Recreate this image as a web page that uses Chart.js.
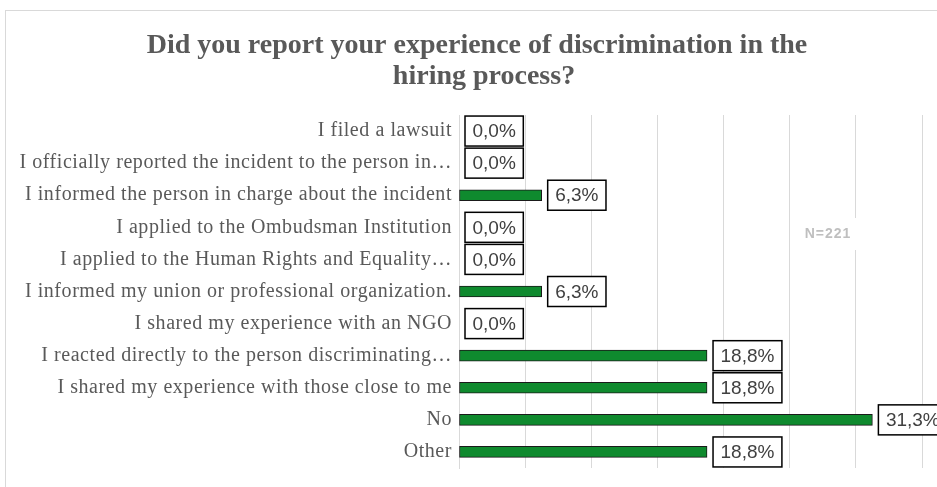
<!DOCTYPE html>
<html>
<head>
<meta charset="utf-8">
<script src="https://cdn.jsdelivr.net/npm/chart.js@4/dist/chart.umd.min.js"></script>
<style>
  html,body{margin:0;padding:0;background:#fff;}
  #wrap{width:937px;height:487px;position:relative;}
</style>
</head>
<body>
<div id="wrap"><canvas id="c"></canvas></div>
<script>
const titleLines = [
  "Did you report your experience of discrimination in the",
  "hiring process?"
];
const categories = [
  "I filed a lawsuit",
  "I officially reported the incident to the person in…",
  "I informed the person in charge about the incident",
  "I applied to the Ombudsman Institution",
  "I applied to the Human Rights and Equality…",
  "I informed my union or professional organization.",
  "I shared my experience with an NGO",
  "I reacted directly to the person discriminating…",
  "I shared my experience with those close to me",
  "No",
  "Other"
];
const values = [0, 0, 6.25, 0, 0, 6.25, 0, 18.75, 18.75, 31.25, 18.75];
const axisMin = 0;
const axisMax = 35;
const tickStep = 5;
const noteText = "N=221";

function fmt(v){ return v.toFixed(1).replace('.', ',') + '%'; }

const decor = {
  id: 'decor',
  beforeDraw(chart){
    const ctx = chart.ctx;
    ctx.save();
    ctx.fillStyle = '#fff';
    ctx.fillRect(0,0,chart.width,chart.height);
    ctx.strokeStyle = '#d9d9d9';
    ctx.lineWidth = 1;
    ctx.strokeRect(5.5, 10.5, 1200, 1200);
    ctx.restore();
    if ('letterSpacing' in ctx) ctx.letterSpacing = '0.55px';
  },
  beforeDatasetsDraw(chart){
    const ctx = chart.ctx;
    if ('letterSpacing' in ctx) ctx.letterSpacing = '0px';
  },
  afterDatasetsDraw(chart){
    const ctx = chart.ctx;
    ctx.save();
    // N= note
    ctx.fillStyle = '#fff';
    ctx.fillRect(797, 218, 63, 32);
    ctx.fillStyle = '#bfbfbf';
    if ('letterSpacing' in ctx) ctx.letterSpacing = '1px';
    ctx.font = 'bold 14px "Liberation Sans"';
    ctx.textAlign = 'center';
    ctx.textBaseline = 'middle';
    ctx.fillText(noteText, 828, 234);
    if ('letterSpacing' in ctx) ctx.letterSpacing = '0px';
    // data labels
    const meta = chart.getDatasetMeta(0);
    ctx.font = '19px "Liberation Sans"';
    meta.data.forEach((el, i) => {
      const txt = fmt(values[i]);
      const tw = ctx.measureText(txt).width;
      const w = tw + 15, h = 30;
      const x0 = el.x + 6, y0 = el.y - h/2;
      ctx.fillStyle = '#fff';
      ctx.fillRect(x0, y0, w, h);
      ctx.strokeStyle = '#000';
      ctx.lineWidth = 1.5;
      ctx.strokeRect(x0, y0, w, h);
      ctx.fillStyle = '#404040';
      ctx.textAlign = 'left';
      ctx.textBaseline = 'middle';
      ctx.fillText(txt, x0 + 7.5, el.y + 1);
    });
    ctx.restore();
  },
  afterDraw(chart){
    const ctx = chart.ctx;
    ctx.save();
    if ('letterSpacing' in ctx) ctx.letterSpacing = '0px';
    ctx.fillStyle = '#595959';
    ctx.font = 'bold 28px "Liberation Serif"';
    ctx.textAlign = 'center';
    ctx.textBaseline = 'middle';
    ctx.fillText(titleLines[0], 477, 46);
    ctx.fillText(titleLines[1], 484, 77);
    ctx.restore();
  }
};

new Chart(document.getElementById('c'), {
  type: 'bar',
  data: {
    labels: categories,
    datasets: [{
      data: values,
      backgroundColor: '#0f8a2e',
      borderColor: '#1a1a1a',
      borderWidth: 1,
      borderSkipped: false,
      barThickness: 11
    }]
  },
  options: {
    indexAxis: 'y',
    responsive: true,
    maintainAspectRatio: false,
    animation: false,
    layout: { padding: { top: 115, right: 15, bottom: 16, left: 0 } },
    plugins: { legend: { display: false }, tooltip: { enabled: false }, title: { display: false } },
    scales: {
      x: {
        min: axisMin, max: axisMax,
        ticks: { display: false, stepSize: tickStep },
        grid: { color: '#d9d9d9', lineWidth: 1, drawTicks: false },
        border: { display: false },
        afterFit(s){ s.height = 0; }
      },
      y: {
        ticks: { color: '#595959', font: { family: '"Liberation Serif"', size: 20 }, padding: 7, autoSkip: false },
        grid: { display: false, drawTicks: false },
        border: { display: true, color: '#d9d9d9', width: 1 },
        afterFit(s){ s.width = 459; }
      }
    }
  },
  plugins: [decor]
});
</script>
</body>
</html>
